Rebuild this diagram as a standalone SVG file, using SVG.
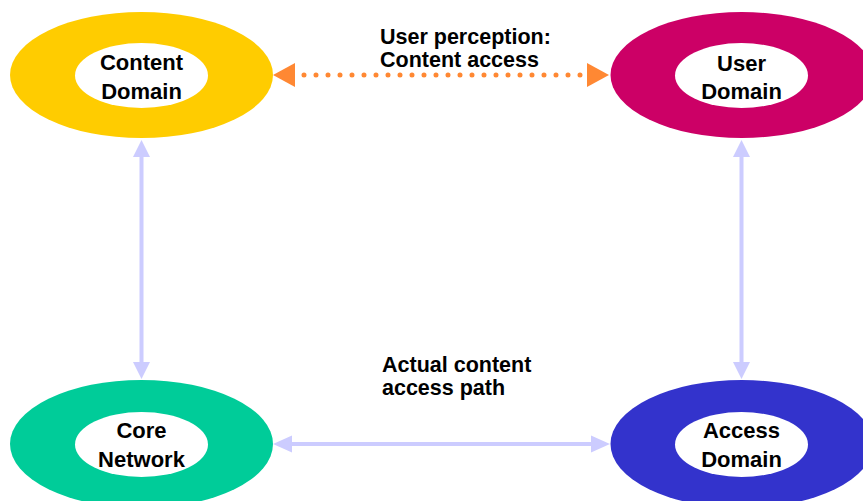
<svg xmlns="http://www.w3.org/2000/svg" width="863" height="501" viewBox="0 0 863 501">
  <style>
    .ring-in { fill: #ffffff; }
    .node-text { font-family: "Liberation Sans", Arial, sans-serif; font-weight: bold; font-size: 22px; fill: #000000; text-anchor: middle; }
    .label { font-family: "Liberation Sans", Arial, sans-serif; font-weight: bold; font-size: 21.5px; fill: #000000; }
    .link { stroke: #ccccff; stroke-width: 4; fill: none; }
    .head { fill: #ccccff; }
    .dots { stroke: #ff8833; stroke-width: 5; stroke-linecap: round; stroke-dasharray: 0 12; fill: none; }
    .ohead { fill: #ff8833; }
  </style>
  <rect width="863" height="501" fill="#ffffff"/>

  <!-- domains -->
  <g id="content-domain">
    <ellipse cx="141.5" cy="75" rx="131.5" ry="63" fill="#ffcc00"/>
    <ellipse class="ring-in" cx="141.5" cy="75.5" rx="66.5" ry="32.5"/>
    <text class="node-text" x="141.5" y="70">Content</text>
    <text class="node-text" x="141.5" y="99">Domain</text>
  </g>

  <g id="user-domain">
    <ellipse cx="742" cy="75" rx="131.5" ry="63" fill="#cc0066"/>
    <ellipse class="ring-in" cx="741.5" cy="75.5" rx="66.5" ry="32.5"/>
    <text class="node-text" x="741.5" y="71">User</text>
    <text class="node-text" x="741.5" y="99">Domain</text>
  </g>

  <g id="core-network">
    <ellipse cx="141.5" cy="444" rx="131.5" ry="64" fill="#00cc99"/>
    <ellipse class="ring-in" cx="141.5" cy="444.5" rx="66.5" ry="32.5"/>
    <text class="node-text" x="141.5" y="438">Core</text>
    <text class="node-text" x="141.5" y="467">Network</text>
  </g>

  <g id="access-domain">
    <ellipse cx="742" cy="444" rx="131.5" ry="64" fill="#3333cc"/>
    <ellipse class="ring-in" cx="741.5" cy="444.5" rx="66.5" ry="32.5"/>
    <text class="node-text" x="741.5" y="438">Access</text>
    <text class="node-text" x="741.5" y="467">Domain</text>
  </g>

  <!-- connectors -->
  <g id="connectors">
    <!-- perceived path: content to user -->
    <line class="dots" x1="304" y1="75" x2="581" y2="75"/>
    <polygon class="ohead" points="273,75 295,63 295,87"/>
    <polygon class="ohead" points="609,75 587,63 587,87"/>

    <!-- content to core -->
    <line class="link" x1="141.5" y1="155" x2="141.5" y2="364"/>
    <polygon class="head" points="141.5,140 133,157 150,157"/>
    <polygon class="head" points="141.5,379 133,362 150,362"/>

    <!-- user to access -->
    <line class="link" x1="741.5" y1="155" x2="741.5" y2="364"/>
    <polygon class="head" points="741.5,140 733,157 750,157"/>
    <polygon class="head" points="741.5,379 733,362 750,362"/>

    <!-- actual path: core to access -->
    <line class="link" x1="290" y1="444" x2="594" y2="444"/>
    <polygon class="head" points="273,444 292,435.5 292,452.5"/>
    <polygon class="head" points="610,444 591,435.5 591,452.5"/>
  </g>

  <!-- path labels -->
  <g id="labels">
    <text class="label" x="380" y="44">User perception:</text>
    <text class="label" x="380" y="67">Content access</text>
    <text class="label" x="382" y="372">Actual content</text>
    <text class="label" x="382" y="395">access path</text>
  </g>
</svg>
